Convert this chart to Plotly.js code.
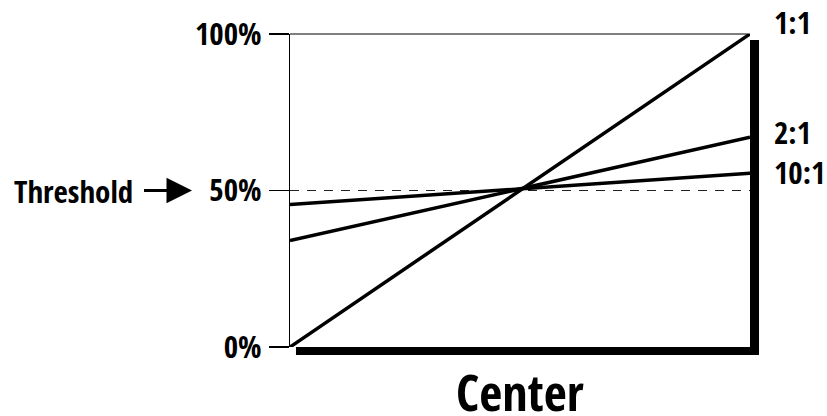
<!DOCTYPE html>
<html>
<head>
<meta charset="utf-8">
<script src="https://cdn.plot.ly/plotly-3.0.1.min.js"></script>
<style>html,body{margin:0;padding:0;background:#fff;}#chart{width:827px;height:416px;}</style>
</head>
<body>
<div id="chart"></div>
<script>
// ---- data ----
const xPos = [0, 1];
const ratio11 = [0, 100];
const ratio21 = [34, 67];
const ratio101 = [45.5, 55.5];
const seriesLabels = ['1:1', '2:1', '10:1'];
const yTickVals = [0, 50, 100];
const yTickText = ['0%', '50%', '100%'];
const thresholdValue = 50;
const thresholdLabel = 'Threshold';
const xTitle = 'Center';

const FONT = 'Open Sans Condensed, Roboto Condensed, sans-serif';
const W = 800;
const series = [ratio11, ratio21, ratio101];
const labelShift = [12, 5, 1];

const traces = series.map((ys, i) => ({
  x: xPos, y: ys, type: 'scatter', mode: 'lines', name: seriesLabels[i],
  line: {color: '#000', width: 3.5}, hoverinfo: 'skip'
}));

const annotations = series.map((ys, i) => ({
  x: xPos[xPos.length - 1], y: ys[ys.length - 1], xref: 'x', yref: 'y',
  text: seriesLabels[i], showarrow: false, xanchor: 'left', yanchor: 'middle',
  xshift: 22, yshift: labelShift[i],
  font: {family: FONT, size: 31, color: '#000', weight: W}
}));
annotations.push({
  x: -0.213, y: thresholdValue, xref: 'paper', yref: 'y',
  text: thresholdLabel, showarrow: true, ax: -119, ay: 0,
  arrowhead: 2, arrowsize: 1.7, arrowwidth: 3, arrowcolor: '#000',
  startstandoff: 10,
  font: {family: FONT, size: 31, color: '#000', weight: W}
});
// x-axis title (placed as annotation for exact vertical position)
annotations.push({
  x: 0.5, y: -0.143, xref: 'paper', yref: 'paper',
  text: xTitle, showarrow: false, xanchor: 'center', yanchor: 'middle',
  font: {family: FONT, size: 50, color: '#000', weight: W}
});

const layout = {
  width: 827, height: 416,
  margin: {l: 290, r: 77, t: 34, b: 69},
  paper_bgcolor: '#fff', plot_bgcolor: 'rgba(0,0,0,0)',
  showlegend: false,
  xaxis: {
    range: [0, 1], showgrid: false, zeroline: false, showline: false,
    showticklabels: false, ticks: '', fixedrange: true
  },
  yaxis: {
    range: [0, 100], showgrid: false, zeroline: false, showline: true,
    linecolor: '#000', linewidth: 1.2, ticks: 'outside', ticklen: 20, tickwidth: 1.2,
    tickcolor: '#000', tickvals: yTickVals, ticktext: yTickText, ticklabelstandoff: 1,
    tickfont: {family: FONT, size: 31, color: '#000', weight: W}, fixedrange: true
  },
  shapes: [
    {type: 'rect', xref: 'paper', yref: 'paper', x0: 0.013, x1: 1.0196, y0: -0.0256, y1: 0.981,
     fillcolor: '#000', line: {width: 0}, layer: 'below'},
    {type: 'rect', xref: 'paper', yref: 'paper', x0: 0, x1: 1, y0: 0, y1: 1,
     fillcolor: '#fff', line: {width: 0}, layer: 'below'},
    {type: 'line', xref: 'paper', yref: 'paper', x0: 0, x1: 1, y0: 1, y1: 1,
     line: {color: '#000', width: 1.2}, layer: 'above'},
    {type: 'line', xref: 'paper', yref: 'y', x0: 0, x1: 1, y0: thresholdValue, y1: thresholdValue,
     line: {color: '#222', width: 1, dash: '9px,8px'}, layer: 'below'}
  ],
  annotations: annotations
};

Plotly.newPlot('chart', traces, layout, {displayModeBar: false, staticPlot: true});
</script>
</body>
</html>
